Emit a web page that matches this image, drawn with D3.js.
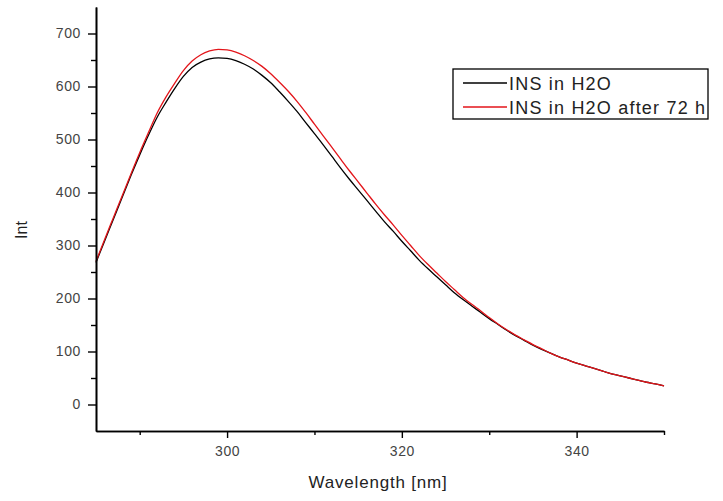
<!DOCTYPE html>
<html>
<head>
<meta charset="utf-8">
<script src="https://cdn.jsdelivr.net/npm/d3@7"></script>
<style>
  body { margin: 0; background: #fff; }
  .tick text { font-family: "Liberation Sans", Arial, sans-serif; font-size: 14px; fill: #444; letter-spacing: 0.6px; }
  .axis path, .axis line { stroke: #000; }
</style>
</head>
<body>
<div id="chart"></div>
<script>
// wavelength (nm)
var wavelength = [285, 286, 287, 288, 289, 290, 291, 292, 293, 294, 295, 296, 297, 298, 299,
  300, 301, 302, 303, 304, 305, 306, 307, 308, 309, 310, 311, 312, 313, 314, 315, 316, 317, 318, 319,
  320, 321, 322, 323, 324, 325, 326, 327, 328, 329, 330, 331, 332, 333, 334, 335, 336, 337, 338, 339,
  340, 341, 342, 343, 344, 345, 346, 347, 348, 349, 350];

// INS in H2O
var insH2O = [268, 309, 350, 391, 432, 471, 508, 542, 570, 596, 619, 636, 646, 652, 654,
  653, 649, 642, 633, 621, 607, 590, 572, 553, 532, 511, 490, 468, 446, 425, 405, 385, 365, 345, 327,
  308, 290, 272, 256, 241, 226, 211, 198, 186, 174, 162, 151, 140, 130, 121, 112, 104, 97, 90, 84,
  78, 73, 68, 63, 58, 54, 50, 46, 42, 39, 35];

// INS in H2O after 72 h
var insH2O72 = [270, 312, 353, 394, 435, 475, 513, 550, 580, 606, 630, 648, 660, 667, 670,
  669, 665, 658, 649, 638, 624, 608, 591, 572, 551, 529, 507, 485, 463, 441, 420, 399, 378, 358, 339,
  319, 300, 281, 264, 248, 232, 217, 202, 189, 177, 164, 152, 141, 131, 122, 113, 105, 97, 90, 84,
  78, 73, 68, 63, 58, 54, 50, 46, 42, 39, 35];

var xMajor = [300, 320, 340],
    xMinor = [290, 310, 330, 350],
    yMajor = [0, 100, 200, 300, 400, 500, 600, 700],
    yMinor = [50, 150, 250, 350, 450, 550, 650];

var seriesNames = ["INS in H2O", "INS in H2O after 72 h"],
    seriesColors = ["#000000", "#e3151a"];

(function() {
    var width = 723,
        height = 501,
        margin = {top: 7, right: 59, bottom: 70, left: 96};

    var svg = d3.select("#chart")
        .append("svg")
        .attr("width", width)
        .attr("height", height)

    var x = d3.scaleLinear().domain([285, 350]).range([margin.left, width - margin.right]);
    var y = d3.scaleLinear().domain([-50, 750]).range([height - margin.bottom, margin.top]);

    var series = [insH2O, insH2O72];

    var line = d3.line()
        .x(function(d, i) { return x(wavelength[i]) })
        .y(function(d) { return y(d) })
        .curve(d3.curveMonotoneX)

    svg.selectAll(".series")
        .data(series)
        .enter().append("path")
        .attr("class", "series")
        .attr("d", line)
        .attr("fill", "none")
        .attr("stroke", function(d, i) { return seriesColors[i] })
        .attr("stroke-width", 1.3)

    // y axis
    svg.append("g")
        .attr("class", "axis")
        .attr("transform", "translate(" + margin.left + ",0)")
        .call(d3.axisLeft(y).tickValues(yMinor).tickSize(5).tickSizeOuter(0).tickFormat(""))
    svg.append("g")
        .attr("class", "axis")
        .attr("transform", "translate(" + margin.left + ",0)")
        .call(d3.axisLeft(y).tickValues(yMajor).tickSize(8).tickSizeOuter(0).tickPadding(7))

    // x axis
    svg.append("g")
        .attr("class", "axis")
        .attr("transform", "translate(0," + (height - margin.bottom) + ")")
        .call(d3.axisBottom(x).tickValues(xMinor).tickSize(4).tickSizeOuter(0).tickFormat(""))
    svg.append("g")
        .attr("class", "axis")
        .attr("transform", "translate(0," + (height - margin.bottom) + ")")
        .call(d3.axisBottom(x).tickValues(xMajor).tickSize(7).tickSizeOuter(0).tickPadding(8))

    svg.selectAll(".axis path").attr("stroke-width", 1.6)
    svg.selectAll(".axis line").attr("stroke-width", 1.4)

    // axis titles
    svg.append("text")
        .attr("transform", "translate(27,230) rotate(-90)")
        .attr("text-anchor", "middle")
        .attr("font-family", "Liberation Sans, Arial, sans-serif")
        .attr("font-size", 16)
        .attr("fill", "#222")
        .text("Int")

    svg.append("text")
        .attr("x", 378)
        .attr("y", 488)
        .attr("text-anchor", "middle")
        .attr("font-family", "Liberation Sans, Arial, sans-serif")
        .attr("font-size", 17)
        .attr("letter-spacing", 0.8)
        .attr("fill", "#222")
        .text("Wavelength [nm]")

    // legend
    var legend = svg.append("g").attr("transform", "translate(453,69)")
    legend.append("rect")
        .attr("width", 255)
        .attr("height", 50)
        .attr("fill", "#fff")
        .attr("stroke", "#000")
        .attr("stroke-width", 1.3)

    var rows = legend.selectAll(".legend-row")
        .data(seriesNames)
        .enter().append("g")
        .attr("class", "legend-row")
        .attr("transform", function(d, i) { return "translate(0," + (14 + i * 24) + ")" })

    rows.append("line")
        .attr("x1", 10)
        .attr("x2", 54)
        .attr("stroke", function(d, i) { return seriesColors[i] })
        .attr("stroke-width", 1.3)

    rows.append("text")
        .attr("x", 56)
        .attr("y", 6.5)
        .attr("font-family", "Liberation Sans, Arial, sans-serif")
        .attr("font-size", 18)
        .attr("letter-spacing", 1.2)
        .attr("fill", "#222")
        .text(function(d) { return d })
})();
</script>
</body>
</html>
